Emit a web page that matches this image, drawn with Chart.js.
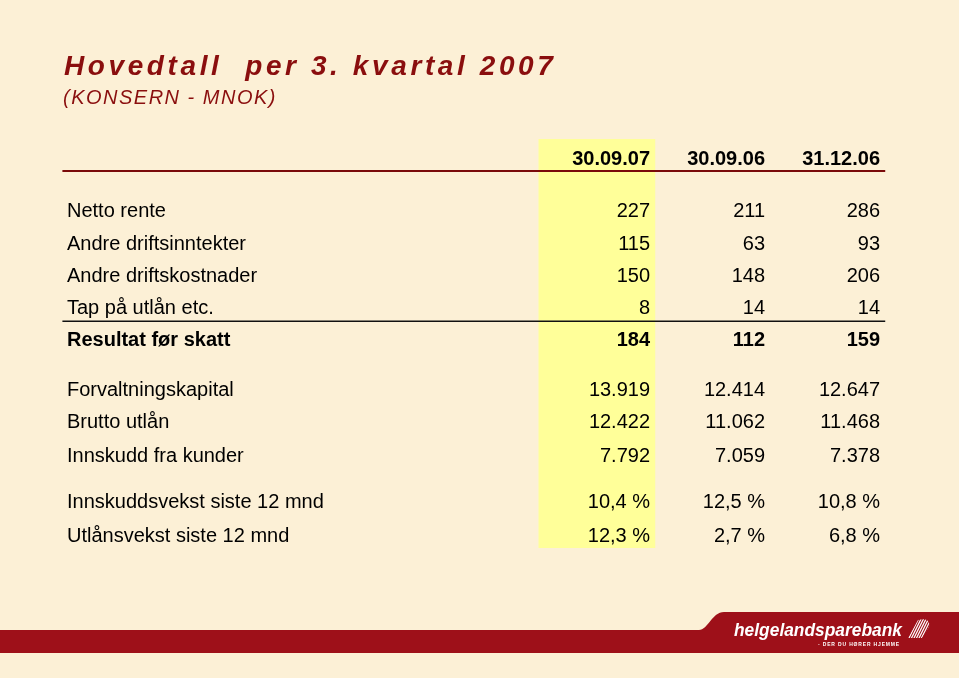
<!DOCTYPE html>
<html>
<head>
<meta charset="utf-8">
<script src="https://cdn.jsdelivr.net/npm/chart.js@4/dist/chart.umd.min.js"></script>
<style>
  html, body { margin: 0; padding: 0; background: #FCF0D6; }
  #wrap { position: relative; width: 959px; height: 678px; }
</style>
</head>
<body>
<div id="wrap"><canvas id="c"></canvas></div>
<script>
// ---------- DATA ----------
const titleText = 'Hovedtall  per 3. kvartal 2007';
const subtitleText = '(KONSERN - MNOK)';
const columnHeaders = ['30.09.07', '30.09.06', '31.12.06'];
const rowLabels = [
  'Netto rente',
  'Andre driftsinntekter',
  'Andre driftskostnader',
  'Tap på utlån etc.',
  'Resultat før skatt',
  'Forvaltningskapital',
  'Brutto utlån',
  'Innskudd fra kunder',
  'Innskuddsvekst siste 12 mnd',
  'Utlånsvekst siste 12 mnd'
];
const values_300907 = [227, 115, 150, 8, 184, 13919, 12422, 7792, 10.4, 12.3];
const values_300906 = [211, 63, 148, 14, 112, 12414, 11062, 7059, 12.5, 2.7];
const values_311206 = [286, 93, 206, 14, 159, 12647, 11468, 7378, 10.8, 6.8];
const rowKind = ['int', 'int', 'int', 'int', 'int', 'int', 'int', 'int', 'pct', 'pct'];
const logoName1 = 'helgeland';
const logoName2 = 'sparebank';
const logoTagline = '- DER DU HØRER HJEMME';

// ---------- LAYOUT (positions in scale units) ----------
const rowPos = [0, 1, 2, 3, 4.0, 5.55, 6.54, 7.57, 9.02, 10.05];
const headerRowPos = -1.64;
const boldRows = [4];
const colPos = [1, 2, 3];
const labelColPos = -4.07;
const highlightCol = { from: 0.03, to: 1.045 };
const headerRulePos = -1.21;
const resultRulePos = 3.44;
const ruleFrom = -4.11, ruleTo = 3.045;

// ---------- HELPERS ----------
function fmt(v, kind) {
  if (kind === 'pct') return v.toFixed(1).replace('.', ',') + ' %';
  return String(Math.round(v)).replace(/\B(?=(\d{3})+(?!\d))/g, '.');
}
const allValues = [values_300907, values_300906, values_311206];

const datasets = [];
datasets.push({
  label: 'labels',
  align: 'left',
  data: rowLabels.map((t, i) => ({ x: labelColPos, y: rowPos[i], t, bold: boldRows.includes(i) })),
  pointRadius: 0, showLine: false
});
allValues.forEach((vals, c) => {
  const pts = [{ x: colPos[c], y: headerRowPos, t: columnHeaders[c], bold: true }];
  vals.forEach((v, i) => pts.push({ x: colPos[c], y: rowPos[i], t: fmt(v, rowKind[i]), bold: boldRows.includes(i) }));
  datasets.push({ label: columnHeaders[c], align: 'right', data: pts, pointRadius: 0, showLine: false });
});

const FONT = '"Liberation Sans", Arial, sans-serif';
const DARKRED = '#8A0E0E';

const tablePlugin = {
  id: 'tablePlugin',
  beforeDraw(chart) {
    const { ctx, width, height, chartArea } = chart;
    const xs = chart.scales.x;
    ctx.save();
    ctx.fillStyle = '#FCF0D6';
    ctx.fillRect(0, 0, width, height);
    const x0 = xs.getPixelForValue(highlightCol.from);
    const x1 = xs.getPixelForValue(highlightCol.to);
    ctx.fillStyle = '#FFFF99';
    ctx.fillRect(x0, chartArea.top, x1 - x0, chartArea.bottom - chartArea.top);
    ctx.restore();
  },
  afterDatasetsDraw(chart) {
    const { ctx, width } = chart;
    const xs = chart.scales.x, ys = chart.scales.y;
    ctx.save();
    const rx0 = xs.getPixelForValue(ruleFrom), rx1 = xs.getPixelForValue(ruleTo);
    ctx.strokeStyle = '#7A0A0A';
    ctx.lineWidth = 2.2;
    let y = Math.round(ys.getPixelForValue(headerRulePos));
    ctx.beginPath(); ctx.moveTo(rx0, y); ctx.lineTo(rx1, y); ctx.stroke();
    ctx.strokeStyle = '#111';
    ctx.lineWidth = 1.5;
    y = Math.round(ys.getPixelForValue(resultRulePos)) + 0.25;
    ctx.beginPath(); ctx.moveTo(rx0, y); ctx.lineTo(rx1, y); ctx.stroke();

    // cell texts (baseline placed just below the row centre)
    ctx.fillStyle = '#000';
    ctx.textBaseline = 'alphabetic';
    chart.data.datasets.forEach((ds, d) => {
      const meta = chart.getDatasetMeta(d);
      ctx.textAlign = ds.align;
      meta.data.forEach((pt, i) => {
        const item = ds.data[i];
        ctx.font = (item.bold ? 'bold ' : '') + '20px ' + FONT;
        ctx.fillText(item.t, pt.x, pt.y + 7.5);
      });
    });

    // title
    ctx.textAlign = 'left';
    ctx.fillStyle = DARKRED;
    ctx.font = 'italic bold 28px ' + FONT;
    ctx.letterSpacing = '3.6px';
    ctx.fillText(titleText, 64, 75);
    ctx.font = 'italic 20px ' + FONT;
    ctx.letterSpacing = '1.5px';
    ctx.fillText(subtitleText, 63, 104);
    ctx.letterSpacing = '0px';

    // bottom band + logo
    ctx.fillStyle = '#9E1019';
    ctx.fillRect(0, 630, width, 23);
    ctx.beginPath();
    ctx.moveTo(699, 630);
    ctx.bezierCurveTo(708, 630, 712, 612, 724, 612);
    ctx.lineTo(width, 612);
    ctx.lineTo(width, 653);
    ctx.lineTo(699, 653);
    ctx.closePath();
    ctx.fill();

    ctx.fillStyle = '#FFFFFF';
    ctx.font = 'italic bold 19px ' + FONT;
    const w1 = ctx.measureText(logoName1).width;
    ctx.font = 'italic 900 19px ' + FONT;
    const w2 = ctx.measureText(logoName2).width;
    const target = 168, sx = target / (w1 + w2);
    ctx.save();
    ctx.translate(734, 636);
    ctx.scale(sx, 1);
    ctx.font = 'italic bold 19px ' + FONT;
    ctx.fillText(logoName1, 0, 0);
    ctx.font = 'italic 900 19px ' + FONT;
    ctx.fillText(logoName2, w1, 0);
    ctx.restore();

    ctx.font = 'bold 6px ' + FONT;
    ctx.letterSpacing = '1px';
    const tw = ctx.measureText(logoTagline).width;
    ctx.save();
    ctx.translate(818, 646);
    ctx.scale(82 / tw, 1);
    ctx.fillText(logoTagline, 0, 0);
    ctx.restore();
    ctx.letterSpacing = '0px';

    // stripes emblem
    ctx.save();
    ctx.beginPath();
    ctx.moveTo(908, 638);
    ctx.lineTo(918, 620);
    ctx.quadraticCurveTo(931, 617, 929, 627);
    ctx.lineTo(922, 638);
    ctx.closePath();
    ctx.clip();
    ctx.strokeStyle = '#FFFFFF';
    ctx.lineWidth = 1.2;
    for (let k = -6; k < 14; k++) {
      ctx.beginPath();
      ctx.moveTo(902 + k * 2.5, 642);
      ctx.lineTo(916 + k * 2.5, 614);
      ctx.stroke();
    }
    ctx.restore();

    ctx.restore();
  }
};

new Chart(document.getElementById('c'), {
  type: 'scatter',
  data: { datasets },
  options: {
    responsive: true,
    maintainAspectRatio: false,
    animation: false,
    events: [],
    layout: { padding: { left: 67, right: 75.5, top: 139, bottom: 130 } },
    plugins: { legend: { display: false }, tooltip: { enabled: false }, title: { display: false } },
    scales: {
      x: { type: 'linear', min: labelColPos, max: 3.03, display: false },
      y: { type: 'linear', min: -2.20, max: 10.48, reverse: true, display: false }
    },
    elements: { point: { radius: 0, hoverRadius: 0 } }
  },
  plugins: [tablePlugin]
});
</script>
</body>
</html>
